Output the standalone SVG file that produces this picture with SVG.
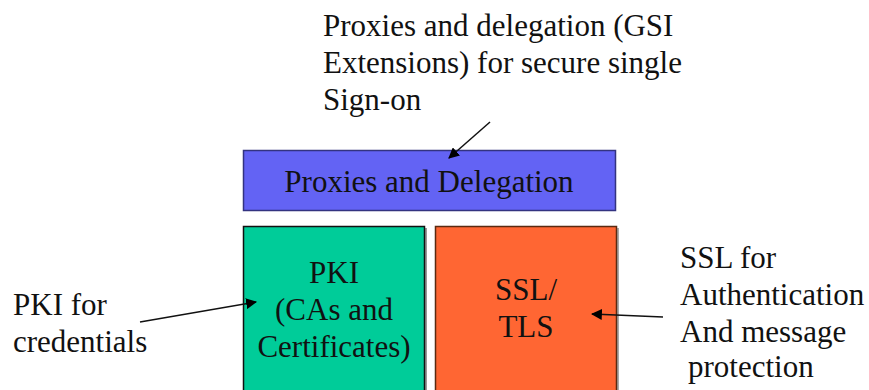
<svg xmlns="http://www.w3.org/2000/svg" width="869" height="390" viewBox="0 0 869 390">
  <style>
    text { font-family: "Liberation Serif", "Times New Roman", serif; font-size: 31px; fill: #111; }
    .mid { text-anchor: middle; }
    .box { stroke-width: 1.5; }
    .conn { stroke: #111; stroke-width: 1.5; fill: none; }
  </style>
  <defs>
    <marker id="arrow" viewBox="0 0 10 10" refX="9" refY="5" markerWidth="11" markerHeight="11" markerUnits="userSpaceOnUse" orient="auto">
      <path d="M0,0 L10,5 L0,10 Z" fill="#000"/>
    </marker>
  </defs>
  <rect width="869" height="390" fill="#fff"/>

  <!-- top layer -->
  <g id="proxies">
    <rect class="box" x="243.5" y="150.5" width="372" height="60" fill="#6363F4" stroke="#333380"/>
    <text class="mid" x="429" y="192">Proxies and Delegation</text>
  </g>

  <!-- lower layer, left -->
  <g id="pki">
    <rect x="245" y="228" width="182" height="164" fill="#999"/>
    <rect class="box" x="243.5" y="226.5" width="181" height="165" fill="#00CC99" stroke="#111"/>
    <text class="mid" x="334" y="283">PKI</text>
    <text class="mid" x="334" y="320">(CAs and</text>
    <text class="mid" x="334" y="357">Certificates)</text>
  </g>

  <!-- lower layer, right -->
  <g id="ssl">
    <rect x="437" y="228" width="182" height="164" fill="#aaa"/>
    <rect class="box" x="435.5" y="226.5" width="181" height="165" fill="#FF6633" stroke="#5a2a10"/>
    <text class="mid" x="526" y="300">SSL/</text>
    <text class="mid" x="526" y="337">TLS</text>
  </g>

  <g id="label-proxies">
    <text x="323" y="36">Proxies and delegation (GSI</text>
    <text x="323" y="73">Extensions) for secure single</text>
    <text x="323" y="110">Sign-on</text>
  </g>

  <g id="label-pki">
    <text x="13" y="315">PKI for</text>
    <text x="13" y="352">credentials</text>
  </g>

  <g id="label-ssl">
    <text x="680" y="268">SSL for</text>
    <text x="680" y="305">Authentication</text>
    <text x="680" y="342">And message</text>
    <text x="688" y="377">protection</text>
  </g>

  <g id="connectors">
    <line class="conn" x1="490" y1="122" x2="449" y2="158" marker-end="url(#arrow)"/>
    <line class="conn" x1="140" y1="322" x2="256" y2="302" marker-end="url(#arrow)"/>
    <line class="conn" x1="663" y1="317" x2="592" y2="314" marker-end="url(#arrow)"/>
  </g>
</svg>
